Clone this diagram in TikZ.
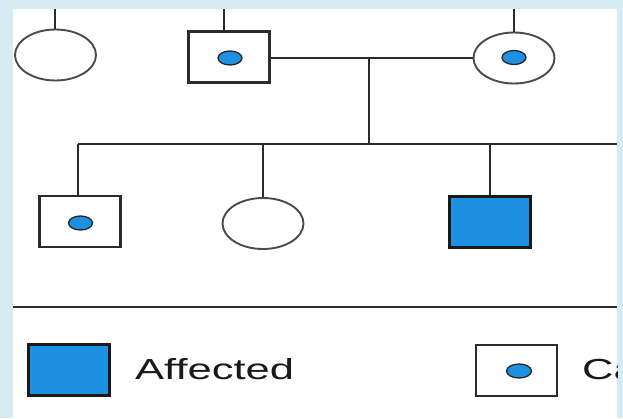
\documentclass[tikz,border=0pt]{standalone}
\usepackage{fontspec}
\setmainfont{Liberation Sans}
\usetikzlibrary{shapes.geometric}
\definecolor{bgblue}{HTML}{D7EBF3}
\definecolor{fillblue}{HTML}{1E90E2}
\definecolor{ink}{HTML}{2B2B2B}
\begin{document}
\begin{tikzpicture}[x=1pt,y=-1pt,
  line/.style={draw=ink,line width=2.2pt},
  male/.style={rectangle,draw=ink,line width=2.4pt,fill=white,minimum width=81pt,minimum height=51pt,inner sep=0pt},
  female/.style={ellipse,draw=ink!85,line width=1.9pt,fill=white,minimum width=81pt,minimum height=51pt,inner sep=0pt},
  affected/.style={male,fill=fillblue,draw=black!90},
  cdot/.style={ellipse,draw=black!85,line width=1.3pt,fill=fillblue,minimum width=24pt,minimum height=14pt,inner sep=0pt},
  lbl/.style={anchor=base west,inner sep=0pt,text=black!90,font=\fontsize{29}{30}\selectfont}
]
\useasboundingbox (0,0) rectangle (623,418);
\fill[bgblue] (0,0) rectangle (623,418);
\fill[white] (13,9) rectangle (617,418);
\begin{scope}
\clip (13,9) rectangle (617,418);
% coordinates
\coordinate (tlTop) at (55,9);
\coordinate (faTop) at (224,9);
\coordinate (moTop) at (514,9);
\coordinate (mid) at (369,58);
\coordinate (sibL) at (78,144);
\coordinate (sibR) at (617,144);
\coordinate (divL) at (13,307);
\coordinate (divR) at (617,307);
% generation I/II
\node[female] (tl) at (55.5,55) {};
\node[male] (fa) at (229,57) {};
\node[cdot] (fadot) at (230,58) {};
\node[female] (mo) at (514,58) {};
\node[cdot] (modot) at (514,57.5) {};
% children
\node[male] (c1) at (80,221.5) {};
\node[cdot] (c1dot) at (80.5,223) {};
\node[female] (c2) at (263,223.5) {};
\node[affected] (c3) at (490,222) {};
% connectors
\draw[line] (tlTop) -- (tlTop |- tl.north);
\draw[line] (faTop) -- (faTop |- fa.north);
\draw[line] (moTop) -- (mo.north);
\draw[line] (fa.east |- mid) -- (mo.west |- mid);
\draw[line] (mid) -- (mid |- sibL);
\draw[line] (sibL) -- (sibR);
\draw[line] (sibL) -- (sibL |- c1.north);
\draw[line] (c2.north |- sibL) -- (c2.north);
\draw[line] (c3.north |- sibL) -- (c3.north);
\draw[line] (divL) -- (divR);
% legend
\node[affected] (lgA) at (69,370) {};
\node[lbl] (lgAt) at (135,379) {\scalebox{1.5}[1]{Affected}};
\node[male] (lgC) at (516.5,370.5) {};
\node[cdot,minimum width=25pt] (lgCdot) at (519,371) {};
\node[lbl] (lgCt) at (582,379) {\scalebox{1.5}[1]{Carrier}};
\end{scope}
\end{tikzpicture}
\end{document}
